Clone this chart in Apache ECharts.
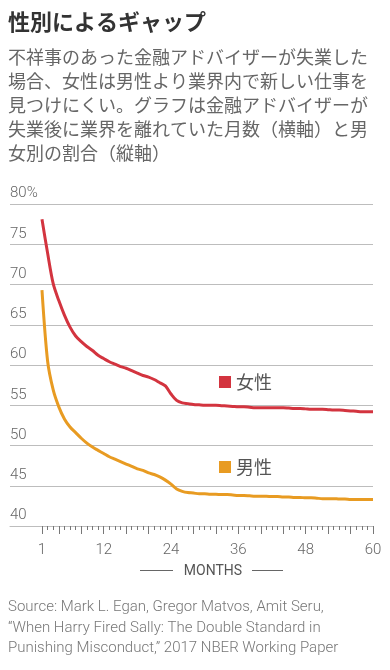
<!DOCTYPE html>
<html>
<head>
<meta charset="utf-8">
<script src="https://cdn.jsdelivr.net/npm/echarts@6/dist/echarts.min.js"></script>
<style>
  html, body { margin: 0; padding: 0; background: #fff; }
  #chart { width: 390px; height: 670px; }
</style>
</head>
<body>
<div id="chart"></div>
<script>
// ---- data ----
const months = [];
for (let m = 1; m <= 60; m++) months.push(m);

const women = [
  78.1, 73.9, 70.1, 68.0, 66.2, 64.7, 63.6, 62.9, 62.3, 61.8,
  61.2, 60.8, 60.4, 60.1, 59.8, 59.6, 59.3, 59.0, 58.7, 58.5,
  58.2, 57.8, 57.4, 56.4, 55.6, 55.3, 55.2, 55.1, 55.05, 55.0,
  55.0, 55.0, 54.95, 54.9, 54.85, 54.8, 54.8, 54.75, 54.7, 54.7,
  54.7, 54.7, 54.7, 54.7, 54.65, 54.6, 54.6, 54.55, 54.5, 54.5,
  54.5, 54.45, 54.4, 54.4, 54.35, 54.3, 54.25, 54.2, 54.2, 54.2
];
const men = [
  69.3, 60.5, 56.9, 54.8, 53.3, 52.3, 51.6, 50.9, 50.3, 49.8,
  49.4, 49.0, 48.6, 48.3, 48.0, 47.7, 47.4, 47.1, 46.9, 46.6,
  46.4, 46.1, 45.7, 45.2, 44.6, 44.3, 44.15, 44.1, 44.0, 44.0,
  43.95, 43.95, 43.9, 43.9, 43.85, 43.8, 43.8, 43.75, 43.7, 43.7,
  43.7, 43.65, 43.65, 43.6, 43.6, 43.55, 43.55, 43.5, 43.5, 43.45,
  43.4, 43.4, 43.4, 43.35, 43.35, 43.3, 43.3, 43.3, 43.3, 43.3
];
const xLabelValues = [1, 12, 24, 36, 48, 60];
const majorTickValues = [1, 4, 8, 12, 16, 20, 24, 28, 32, 36, 40, 44, 48, 52, 56, 60];
const seriesNames = ['女性', '男性'];
const titleText = '性別によるギャップ';
const subText = '不祥事のあった金融アドバイザーが失業した\n場合、女性は男性より業界内で新しい仕事を\n見つけにくい。グラフは金融アドバイザーが\n失業後に業界を離れていた月数（横軸）と男\n女別の割合（縦軸）';
const axisTitle = 'MONTHS';
const sourceText = 'Source: Mark L. Egan, Gregor Matvos, Amit Seru,\n\u201CWhen Harry Fired Sally: The Double Standard in\nPunishing Misconduct,\u201D 2017 NBER Working Paper';

// ---- chart ----
const RED = '#d3343f';
const ORANGE = '#e89b22';
const GRIDC = '#bdbdbd';
const CJK = '"Noto Sans CJK JP", "Noto Sans", sans-serif';
const LAT = 'Roboto, "Noto Sans", sans-serif';

const chart = echarts.init(document.getElementById('chart'), null, { renderer: 'canvas' });

chart.setOption({
  backgroundColor: '#ffffff',
  animation: false,
  title: [
    {
      text: titleText,
      subtext: subText,
      left: 8,
      top: 9,
      padding: 0,
      itemGap: 10,
      textStyle: { fontFamily: CJK, fontSize: 22, fontWeight: 'bold', color: '#333', lineHeight: 26 },
      subtextStyle: { fontFamily: CJK, fontSize: 18, color: '#666', lineHeight: 24 }
    },
    {
      text: sourceText,
      left: 8,
      top: 597,
      padding: 0,
      textStyle: { fontFamily: LAT, fontSize: 15, fontWeight: 300, color: '#777', lineHeight: 20.5 }
    }
  ],
  legend: [
    {
      data: [seriesNames[0]],
      left: 219, top: 373, padding: 0,
      icon: 'rect', itemWidth: 12, itemHeight: 12, itemGap: 5,
      selectedMode: false,
      textStyle: { fontFamily: CJK, fontSize: 18, color: '#555' }
    },
    {
      data: [seriesNames[1]],
      left: 219, top: 458, padding: 0,
      icon: 'rect', itemWidth: 12, itemHeight: 12, itemGap: 5,
      selectedMode: false,
      textStyle: { fontFamily: CJK, fontSize: 18, color: '#555' }
    }
  ],
  graphic: [
    { type: 'line', shape: { x1: 140, y1: 570.5, x2: 173, y2: 570.5 }, style: { stroke: '#666', lineWidth: 1 } },
    { type: 'line', shape: { x1: 252, y1: 570.5, x2: 283, y2: 570.5 }, style: { stroke: '#666', lineWidth: 1 } },
    { type: 'text', x: 213, y: 571, style: { text: axisTitle, align: 'center', verticalAlign: 'middle', font: '14px Roboto, sans-serif', fill: '#555' } }
  ],
  grid: { left: 10, right: 17, top: 204, bottom: 144 },
  xAxis: [
    {
      type: 'value',
      min: -4.7, max: 60,
      axisLine: { show: true, onZero: false, lineStyle: { color: GRIDC, width: 1 } },
      axisTick: { show: true, length: 8, customValues: majorTickValues, lineStyle: { color: '#777', width: 1 } },
      axisLabel: { customValues: xLabelValues, margin: 17, fontFamily: LAT, fontSize: 15, fontWeight: 300, color: '#666' },
      splitLine: { show: false }
    },
    {
      type: 'value',
      min: -4.7, max: 60,
      position: 'bottom',
      axisLine: { show: false, onZero: false },
      axisTick: { show: true, length: 4, customValues: months, lineStyle: { color: '#777', width: 1 } },
      axisLabel: { show: false },
      splitLine: { show: false }
    }
  ],
  yAxis: {
    type: 'value',
    min: 40, max: 80, interval: 5,
    axisLine: { show: false },
    axisTick: { show: false },
    splitLine: { show: true, lineStyle: { color: GRIDC, width: 1, type: 'solid' } },
    axisLabel: {
      inside: true,
      margin: 0,
      verticalAlign: 'bottom',
      padding: [0, 0, 3, 0],
      fontFamily: LAT, fontSize: 15, fontWeight: 300, color: '#666',
      formatter: v => (v === 80 ? v + '%' : String(v))
    }
  },
  series: [
    {
      name: seriesNames[0],
      type: 'line',
      xAxisIndex: 0,
      data: months.map((m, i) => [m, women[i]]),
      showSymbol: false,
      smooth: 0.3,
      lineStyle: { color: RED, width: 3 },
      itemStyle: { color: RED },
      z: 3
    },
    {
      name: seriesNames[1],
      type: 'line',
      xAxisIndex: 0,
      data: months.map((m, i) => [m, men[i]]),
      showSymbol: false,
      smooth: 0.3,
      lineStyle: { color: ORANGE, width: 3 },
      itemStyle: { color: ORANGE },
      z: 3
    }
  ]
});
</script>
</body>
</html>
